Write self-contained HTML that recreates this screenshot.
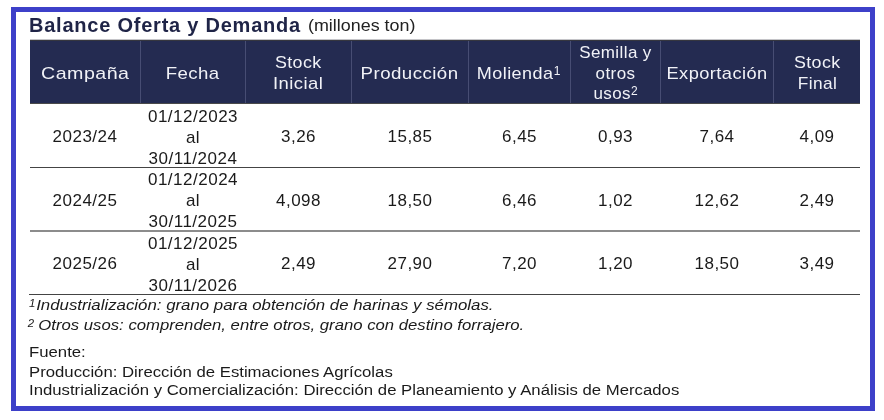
<!DOCTYPE html>
<html><head><meta charset="utf-8">
<style>
html,body{margin:0;padding:0;background:#fff;}
body{width:884px;height:420px;position:relative;overflow:hidden;font-family:"Liberation Sans",sans-serif;color:#1a1a1a;}
.frame{position:absolute;left:11px;top:7px;width:854px;height:394px;border:5px solid #3d40c9;}
.title{position:absolute;left:29px;top:12px;height:26px;line-height:26px;white-space:nowrap;}
.title b{font-size:20px;color:#1f2447;letter-spacing:0.77px;}
.title span{position:absolute;left:278.5px;top:1px;font-size:17px;color:#222;display:inline-block;transform-origin:0 50%;transform:scaleX(1.053);}
.hdr{position:absolute;left:29.5px;top:40px;width:830.5px;height:62px;background:#242b51;border-top:1px solid #35363f;box-shadow:0 -1px 0 #c4c4c8;border-bottom:1px solid #4a4a4a;}
.h{position:absolute;top:41.2px;height:63px;display:flex;align-items:center;justify-content:center;text-align:center;color:#f1f2f7;font-size:17px;line-height:21px;letter-spacing:0.4px;}
.vd{position:absolute;top:41px;height:62px;width:1px;background:#474d73;}
.c{position:absolute;display:flex;align-items:center;justify-content:center;text-align:center;font-size:17px;line-height:21px;letter-spacing:0.5px;height:63px;}
.hl{position:absolute;left:29.5px;width:830.5px;height:1px;background:#444;}
.fn{position:absolute;left:29px;white-space:nowrap;font-style:italic;font-size:14.67px;line-height:20px;transform-origin:0 50%;transform:scaleX(1.148);}
.src{position:absolute;left:29px;white-space:nowrap;font-size:14.67px;line-height:19px;transform-origin:0 50%;transform:scaleX(1.142);}
i.w{display:inline-block;font-style:normal;transform-origin:50% 50%;}
sup{font-size:12px;line-height:0;vertical-align:3.6px;letter-spacing:0;}
.fn sup{font-size:10px;vertical-align:3.4px;}
</style></head><body>
<div class="frame"></div>
<div class="title"><b>Balance Oferta y Demanda</b><span>(millones ton)</span></div>
<div class="hdr"></div>
<div class="vd" style="left:140px"></div><div class="vd" style="left:245px"></div><div class="vd" style="left:351px"></div><div class="vd" style="left:468px"></div><div class="vd" style="left:570px"></div><div class="vd" style="left:660px"></div><div class="vd" style="left:773px"></div>

<div class="h" style="left:30px;width:110px;top:42px"><div><i class="w" style="transform:scaleX(1.155)">Campaña</i></div></div>
<div class="h" style="left:141px;width:104px;top:42px"><div><i class="w" style="transform:scaleX(1.096)">Fecha</i></div></div>
<div class="h" style="left:246px;width:105px"><div><i class="w" style="transform:scaleX(1.05)">Stock</i><br><i class="w" style="transform:scaleX(1.086)">Inicial</i></div></div>
<div class="h" style="left:352px;width:116px;top:42px"><div><i class="w" style="transform:scaleX(1.099)">Producción</i></div></div>
<div class="h" style="left:469px;width:101px;top:42px"><div><i class="w" style="transform:scaleX(1.06)">Molienda</i><sup style="margin-left:3px">1</sup></div></div>
<div class="h" style="left:571px;width:89px"><div style="line-height:20.5px;position:relative;top:1.2px">Semilla y<br>otros<br>usos<sup>2</sup></div></div>
<div class="h" style="left:661px;width:112px;top:42px"><div><i class="w" style="transform:scaleX(1.074)">Exportación</i></div></div>
<div class="h" style="left:774px;width:86px"><div><i class="w" style="transform:scaleX(1.05)">Stock</i><br><i class="w" style="transform:scaleX(1.017)">Final</i></div></div>

<!-- rows -->
<div class="hl" style="top:167px"></div>
<div class="hl" style="top:230px;height:2px;background:#8c8c8c"></div>
<div class="hl" style="top:294px;left:29px;width:831px"></div>

<div class="c" style="left:30px;width:110px;top:104.5px">2023/24</div>
<div class="c" style="left:141px;width:104px;top:105.5px">01/12/2023<br>al<br>30/11/2024</div>
<div class="c" style="left:246px;width:105px;top:104.5px">3,26</div>
<div class="c" style="left:352px;width:116px;top:104.5px">15,85</div>
<div class="c" style="left:469px;width:101px;top:104.5px">6,45</div>
<div class="c" style="left:571px;width:89px;top:104.5px">0,93</div>
<div class="c" style="left:661px;width:112px;top:104.5px">7,64</div>
<div class="c" style="left:774px;width:86px;top:104.5px">4,09</div>

<div class="c" style="left:30px;width:110px;top:168.5px">2024/25</div>
<div class="c" style="left:141px;width:104px;top:168.5px">01/12/2024<br>al<br>30/11/2025</div>
<div class="c" style="left:246px;width:105px;top:168.5px">4,098</div>
<div class="c" style="left:352px;width:116px;top:168.5px">18,50</div>
<div class="c" style="left:469px;width:101px;top:168.5px">6,46</div>
<div class="c" style="left:571px;width:89px;top:168.5px">1,02</div>
<div class="c" style="left:661px;width:112px;top:168.5px">12,62</div>
<div class="c" style="left:774px;width:86px;top:168.5px">2,49</div>

<div class="c" style="left:30px;width:110px;top:231.5px">2025/26</div>
<div class="c" style="left:141px;width:104px;top:232.5px">01/12/2025<br>al<br>30/11/2026</div>
<div class="c" style="left:246px;width:105px;top:231.5px">2,49</div>
<div class="c" style="left:352px;width:116px;top:231.5px">27,90</div>
<div class="c" style="left:469px;width:101px;top:231.5px">7,20</div>
<div class="c" style="left:571px;width:89px;top:231.5px">1,20</div>
<div class="c" style="left:661px;width:112px;top:231.5px">18,50</div>
<div class="c" style="left:774px;width:86px;top:231.5px">3,49</div>

<div class="fn" style="top:295px"><sup style="margin-right:-3.4px">1</sup> Industrialización: grano para obtención de harinas y sémolas.</div>
<div class="fn" style="top:315px;transform:scaleX(1.1405)"><sup style="margin-left:-1px;margin-right:-0.5px">2</sup> Otros usos: comprenden, entre otros, grano con destino forrajero.</div>
<div class="src" style="top:343px">Fuente:</div>
<div class="src" style="top:363px">Producción: Dirección de Estimaciones Agrícolas</div>
<div class="src" style="top:381px">Industrialización y Comercialización: Dirección de Planeamiento y Análisis de Mercados</div>
</body></html>
